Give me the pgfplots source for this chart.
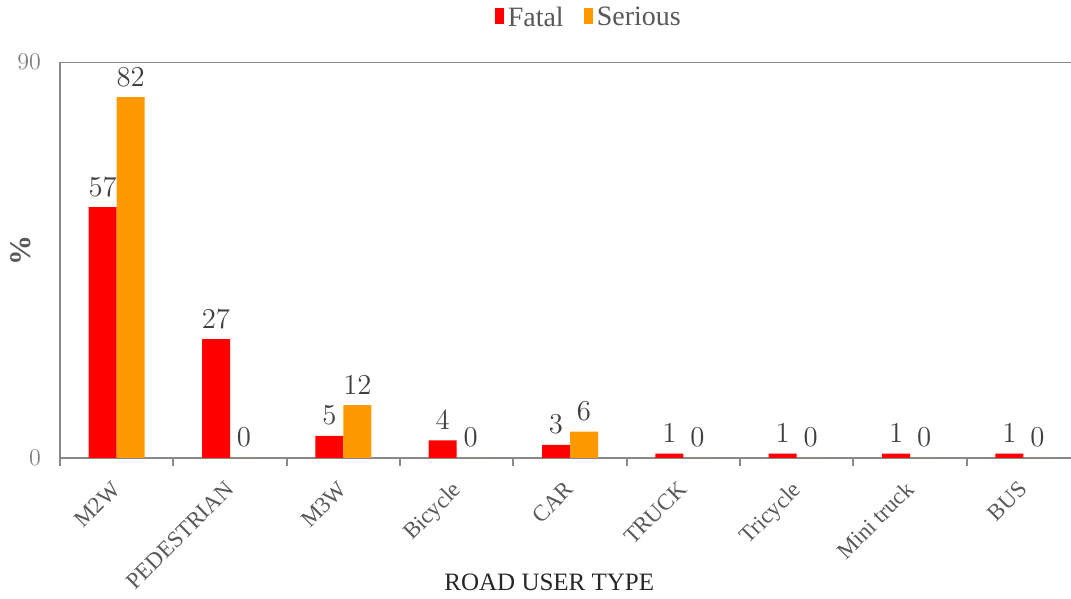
\documentclass[border=0pt]{standalone}
\usepackage{pgfplots}
\pgfplotsset{compat=1.18}
\usepackage{fontspec}
\setmainfont{Liberation Serif}
\definecolor{fatalred}{HTML}{FF0000}
\definecolor{seriousorange}{HTML}{FF9900}
\definecolor{axisgray}{HTML}{898989}
\definecolor{labelgray}{HTML}{595959}
\definecolor{tickgray}{HTML}{808080}
\definecolor{valgray}{HTML}{404040}

\begin{document}
\begin{tikzpicture}
\begin{axis}[
    name=ax,
    scale only axis,
    width=505.5pt, height=198pt,
    ybar=0pt, bar width=14pt,
    xmin=-0.5, xmax=8.42,
    ymin=0, ymax=90,
    axis lines*=left,
    axis line style={axisgray, line width=1pt},
    ytick={0,90},
    ytick style={draw=none},
    yticklabel style={font=\fontsize{11.5}{13}\selectfont, text=tickgray, xshift=-6pt},
    xtick={0,...,8},
    xticklabels={M2W,PEDESTRIAN,M3W,Bicycle,CAR,TRUCK,Tricycle,Mini truck,BUS},
    xtick style={draw=none},
    xticklabel style={yshift=-5pt, xshift=-3pt, rotate=45, anchor=north east,
                      font=\fontsize{11.5}{13}\selectfont, text=labelgray, inner sep=1pt},
    extra x ticks={-0.5,0.5,...,7.5},
    extra x tick labels={},
    extra x tick style={xtick style={draw=axisgray, line width=1pt}, tick align=outside,
                        major tick length=4pt},
    ylabel={\textbf{\%}},
    ylabel style={at={(axis description cs:-0.0386,0.525)}, anchor=center,
                  font=\fontsize{15}{17}\selectfont, text=labelgray},
    xlabel={ROAD USER TYPE},
    xlabel style={at={(axis description cs:0.484,-0.313)}, anchor=center,
                  font=\fontsize{12.5}{14}\selectfont, text=black!85},
    nodes near coords,
    nodes near coords style={font=\fontsize{13.5}{15}\selectfont, text=valgray, yshift=2pt},
    legend style={at={(axis description cs:0.524,1.111)}, anchor=center, draw=none,
                  legend columns=2, font=\fontsize{14}{16}\selectfont, text=labelgray,
                  /tikz/every even column/.append style={column sep=8pt}},
    legend image code/.code={\fill[#1] (0pt,-0.3em) rectangle (0.45em,0.5em);},
]
\addplot[fill=fatalred, draw=none] coordinates {
    (0,57) (1,27) (2,5) (3,4) (4,3) (5,1) (6,1) (7,1) (8,1)};
\addplot[fill=seriousorange, draw=none] coordinates {
    (0,82) (1,0) (2,12) (3,0) (4,6) (5,0) (6,0) (7,0) (8,0)};
\legend{Fatal, Serious}
\draw[axisgray, line width=1pt] (rel axis cs:0,1) -- (rel axis cs:1,1);
\end{axis}
\pgfresetboundingbox
\path ([shift={(-30pt,-70.5pt)}]ax.south west) rectangle ([shift={(0pt,31pt)}]ax.north east);
\end{tikzpicture}
\end{document}
